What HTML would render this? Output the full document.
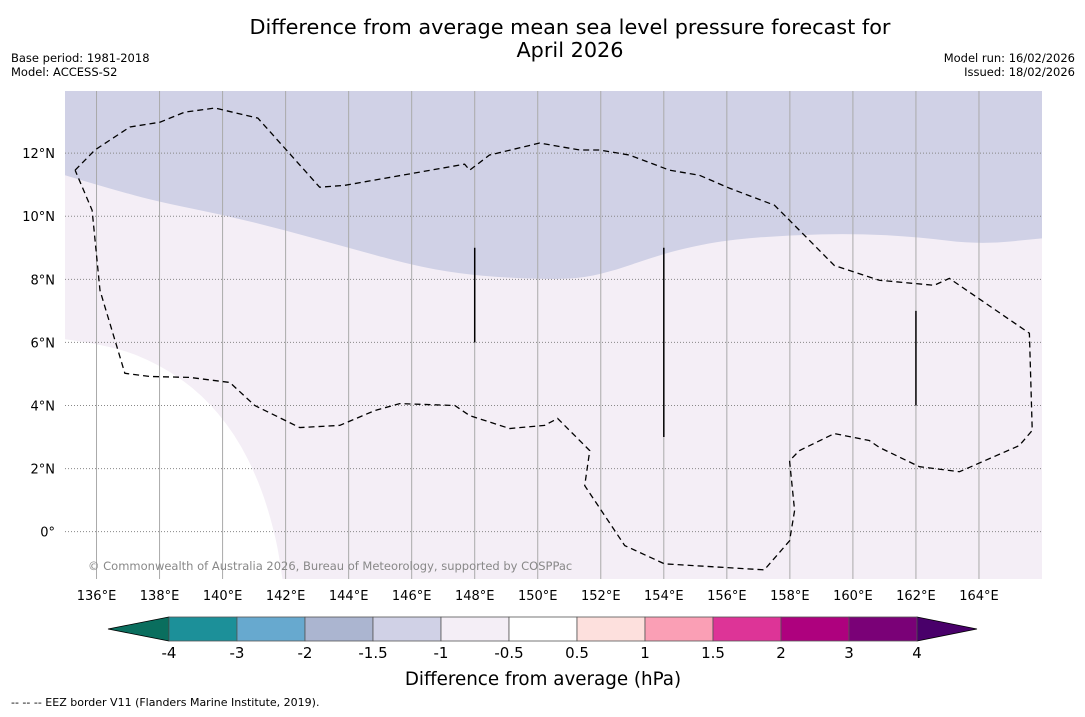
<!DOCTYPE html>
<html><head><meta charset="utf-8">
<style>
body{margin:0;background:#fff;width:1085px;height:713px;overflow:hidden;font-family:"DejaVu Sans","Liberation Sans",sans-serif;}
#wrap{position:relative;width:1085px;height:713px;}
</style></head><body>
<div id="wrap">
<svg id="svg" width="1085" height="713" xmlns="http://www.w3.org/2000/svg">
<text x="570" y="34" font-size="20.8" text-anchor="middle">Difference from average mean sea level pressure forecast for</text>
<text x="570" y="57" font-size="20.8" text-anchor="middle">April 2026</text>
<text x="11" y="62" font-size="11.5">Base period: 1981-2018</text>
<text x="11" y="76" font-size="11.5">Model: ACCESS-S2</text>
<text x="1075" y="62" font-size="11.5" text-anchor="end">Model run: 16/02/2026</text>
<text x="1075" y="76" font-size="11.5" text-anchor="end">Issued: 18/02/2026</text>
<g id="map"></g>
<g id="cbar"></g>
<text x="543" y="685" font-size="18.3" text-anchor="middle">Difference from average (hPa)</text>
<text x="11" y="706" font-size="11">--  --  -- EEZ border V11 (Flanders Marine Institute, 2019).</text>
</svg>
</div>
<script>
const lonTicks=[136,138,140,142,144,146,148,150,152,154,156,158,160,162,164];
const latTicks=[0,2,4,6,8,10,12];
const upperLon=[135,136.5,138,140,142,144,146,147.5,149,150.5,151.5,152.5,153.5,154.5,156,158,160,162,164,166];
const upperLat=[11.3,10.85,10.45,10.05,9.55,9.0,8.45,8.18,8.05,8.0,8.05,8.3,8.65,8.95,9.25,9.4,9.45,9.35,9.1,9.3];
const whiteLon=[135,136.5,138,139.3,140.4,141.2,141.7,141.9];
const whiteLat=[6.1,5.9,5.3,4.4,3.1,1.5,-0.2,-1.5];
const eezLon=[135.32,135.95,137.06,138.01,138.8,139.76,141.12,143.08,143.88,147.68,147.84,148.47,150.06,151.33,151.96,152.91,154.18,155.13,156.08,157.51,157.99,159.41,160.84,162.58,163.06,165.6,165.69,165.28,163.38,162.11,160.84,160.52,159.41,158.3,157.99,158.15,157.99,157.19,154.02,152.76,151.49,151.65,151.17,150.63,150.22,149.11,147.84,147.37,145.62,144.83,143.72,142.45,141.02,140.23,138.96,137.7,136.9,136.11,135.86,135.32];
const eezLat=[11.46,12.1,12.83,12.98,13.3,13.43,13.11,10.92,10.98,11.65,11.46,11.94,12.32,12.1,12.1,11.94,11.46,11.3,10.89,10.35,9.87,8.44,7.97,7.81,8.03,6.29,3.21,2.73,1.9,2.06,2.67,2.89,3.11,2.57,2.25,0.67,-0.29,-1.21,-1.02,-0.44,1.46,2.57,3.05,3.59,3.37,3.27,3.68,4.0,4.06,3.84,3.37,3.3,4.0,4.73,4.89,4.92,5.02,7.65,10.19,11.46];
const segLon=[148,154,162];
const segTop=[9,9,7];
const segBot=[6,3,4];
const cbLevels=["-4","-3","-2","-1.5","-1","-0.5","0.5","1","1.5","2","3","4"];
const cbColors=["#1c9099","#67a9cf","#abb5d0","#d0d1e6","#f4eef6","#ffffff","#fde0dd","#fa9fb5","#dd3497","#ae017e","#7a0177"];

const NS="http://www.w3.org/2000/svg";
const X0=65,X1=1042,Y0=91,Y1=579;
const LON0=135,LON1=166,LAT0=-1.5,LAT1=13.97;
const xs=l=>X0+(l-LON0)/(LON1-LON0)*(X1-X0);
const ys=l=>Y1-(l-LAT0)/(LAT1-LAT0)*(Y1-Y0);
function mk(t,a,p){const e=document.createElementNS(NS,t);for(const k in a)e.setAttribute(k,a[k]);p.appendChild(e);return e;}
function smooth(px,py){let s='';for(let i=0;i<px.length;i++){if(i===0){s+='L'+px[0]+','+py[0];continue;}
 if(i<px.length-1){const mx=(px[i]+px[i+1])/2,my=(py[i]+py[i+1])/2;s+=' Q'+px[i]+','+py[i]+' '+mx+','+my;}else s+=' L'+px[i]+','+py[i];}return s;}
const map=document.getElementById('map');
const defs=mk('defs',{},map);
const cp=mk('clipPath',{id:'cp'},defs);mk('rect',{x:X0,y:Y0,width:X1-X0,height:Y1-Y0},cp);
const g=mk('g',{'clip-path':'url(#cp)'},map);
const bg=mk('rect',{x:X0,y:Y0,width:X1-X0,height:Y1-Y0,fill:'#f4eef6'},g);


let d='M'+X0+','+(Y0-5)+' '+smooth(upperLon.map(xs),upperLat.map(ys))+' L'+X1+','+(Y0-5)+'Z';
const up=mk('path',{d:d,fill:'#d0d1e6'},g);


d='M'+X0+','+(Y1+5)+' '+smooth(whiteLon.map(xs),whiteLat.map(ys))+' L'+xs(whiteLon[whiteLon.length-1])+','+(Y1+5)+'Z';
const wh=mk('path',{d:d,fill:'#ffffff'},g);


lonTicks.forEach(l=>{
 const ln=mk('line',{x1:xs(l),x2:xs(l),y1:Y0,y2:Y1,stroke:'#aaa','stroke-width':1},g);
 
 
 const t=mk('text',{x:xs(l),y:600,'font-size':13,'text-anchor':'middle'},map);
 t.textContent=l+'°E';
 
 
});
latTicks.forEach(l=>{
 const ln=mk('line',{x1:X0,x2:X1,y1:ys(l),y2:ys(l),stroke:'#888','stroke-width':1,'stroke-dasharray':'1,2'},g);
 
 
 const t=mk('text',{x:55,y:ys(l)+5,'font-size':13,'text-anchor':'end'},map);
 t.textContent=l===0?'0°':l+'°N';
 
 
});
d='';
eezLon.forEach((l,i)=>{d+=(i?' L':'M')+xs(l)+','+ys(eezLat[i]);});
const ez=mk('path',{d:d,fill:'none',stroke:'#000','stroke-width':1.3,'stroke-dasharray':'6,4'},g);


segLon.forEach((l,i)=>{
 const s=mk('line',{x1:xs(l),x2:xs(l),y1:ys(segTop[i]),y2:ys(segBot[i]),stroke:'#000','stroke-width':1.5},g);
 
 
});
const cr=mk('text',{x:88,y:570,'font-size':11.5,fill:'#888'},map);
cr.textContent='© Commonwealth of Australia 2026, Bureau of Meteorology, supported by COSPPac';



const cb=document.getElementById('cbar');
const CX0=169,CW=68,CY=617,CH=24;
const n=cbColors.length;
const le=mk('polygon',{points:`108,${CY+CH/2} ${CX0},${CY} ${CX0},${CY+CH}`,fill:'#0a6e5e',stroke:'#000','stroke-width':0.8},cb);


const xe=CX0+n*CW;
const re=mk('polygon',{points:`${xe},${CY} ${xe+60},${CY+CH/2} ${xe},${CY+CH}`,fill:'#49006a',stroke:'#000','stroke-width':0.8},cb);


cbColors.forEach((c,i)=>{
 const r=mk('rect',{x:CX0+i*CW,y:CY,width:CW,height:CH,fill:c,stroke:'#555','stroke-width':0.8},cb);
 
 
});
cbLevels.forEach((s,i)=>{
 const t=mk('text',{x:CX0+i*CW,y:658,'font-size':15,'text-anchor':'middle'},cb);
 t.textContent=s;
 
 
});
</script>
</body></html>
